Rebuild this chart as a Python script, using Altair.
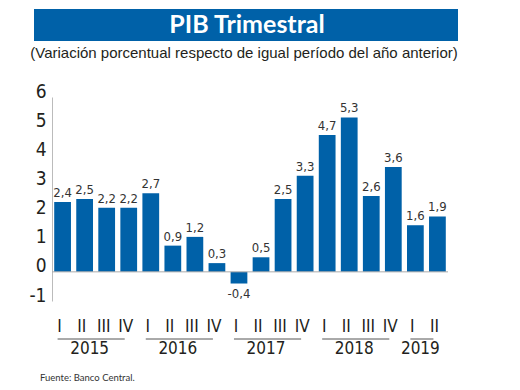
import altair as alt
import pandas as pd

years = ["2015"] * 4 + ["2016"] * 4 + ["2017"] * 4 + ["2018"] * 4 + ["2019"] * 2
quarters = ["I", "II", "III", "IV"] * 4 + ["I", "II"]
values = [2.4, 2.5, 2.2, 2.2, 2.7, 0.9, 1.2, 0.3, -0.4, 0.5, 2.5, 3.3, 4.7, 5.3, 2.6, 3.6, 1.6, 1.9]
y_ticks = [-1, 0, 1, 2, 3, 4, 5, 6]
year_labels = ["2015", "2016", "2017", "2018", "2019"]
year_first = ["2015-I", "2016-I", "2017-I", "2018-I", "2019-I"]
year_last = ["2015-IV", "2016-IV", "2017-IV", "2018-IV", "2019-II"]
year_mid = ["2015-II", "2016-II", "2017-II", "2018-II", "2019-I"]

BLUE = "#0061A8"
TXT = "#231f20"
NARROW = "Liberation Sans Narrow, DejaVu Sans Condensed, Arial, sans-serif"

df = pd.DataFrame({"periodo": [f"{y}-{q}" for y, q in zip(years, quarters)], "valor": values})
order = list(df["periodo"])
ydf = pd.DataFrame({"anio": year_labels, "first": year_first, "last": year_last, "mid": year_mid})

xscale = alt.Scale(domain=order, paddingInner=0.24, paddingOuter=0.1)
yscale = alt.Scale(domain=[-1, 6], nice=False)

x_axis = alt.Axis(labelExpr="split(datum.label,'-')[1]", labelAngle=0, domain=False,
                  ticks=False, labelFontSize=17, labelFont=NARROW, labelColor=TXT,
                  labelPadding=17, labelOverlap=False, labelOffset=-3, title=None)
y_axis = alt.Axis(values=y_ticks, grid=False, ticks=False, domainColor="#bbbbbb",
                  labelFontSize=19, labelFont=NARROW, labelColor=TXT,
                  labelBaseline="alphabetic", labelPadding=6, labelOverlap=False,
                  labelExpr="toString(datum.value)", title=None)

def X(field):
    return alt.X(field, scale=xscale, axis=x_axis, title=None)

def Y(field):
    return alt.Y(field, scale=yscale, axis=y_axis, title=None)

base = alt.Chart(df)
bars = base.mark_bar(color=BLUE).encode(x=X("periodo:N"), y=Y("valor:Q"))

lab = "replace(replace(format(datum.valor,'.1f'),'\u2212','-'),'.',',')"
pos_txt = base.transform_filter("datum.valor >= 0").transform_calculate(lab=lab).mark_text(
    baseline="bottom", dy=-2, fontSize=13, font=NARROW, color="#333333"
).encode(x=X("periodo:N"), y=Y("valor:Q"), text="lab:N")
neg_txt = base.transform_filter("datum.valor < 0").transform_calculate(lab=lab).mark_text(
    baseline="top", dy=4, fontSize=13, font=NARROW, color="#333333"
).encode(x=X("periodo:N"), y=Y("valor:Q"), text="lab:N")

zero = alt.Chart(pd.DataFrame({"z": [0]})).mark_rule(color="#aaaaaa", strokeWidth=1).encode(
    y=Y("z:Q")
)

ybase = alt.Chart(ydf)
underline = ybase.mark_rule(color="#555555", strokeWidth=1, xOffset=-5, x2Offset=-4).encode(
    x=X("first:N"), x2="last:N", y=alt.value(242)
)
year_txt = ybase.mark_text(dx=5, fontSize=17, font=NARROW, color=TXT, baseline="middle").encode(
    x=X("mid:N"), y=alt.value(252), text="anio:N"
)

deco = alt.Chart(pd.DataFrame({"a": [0]}))
banner = deco.mark_rect(color=BLUE).encode(
    x=alt.value(-18), x2=alt.value(406), y=alt.value(-88), y2=alt.value(-56)
)
title = deco.mark_text(text="PIB Trimestral", font="Lato", fontWeight="bold", fontSize=25,
                       color="white", baseline="middle").encode(x=alt.value(195), y=alt.value(-72))
subtitle = deco.mark_text(text="(Variación porcentual respecto de igual período del año anterior)",
                          font="Liberation Sans", fontSize=15, color=TXT,
                          baseline="middle").encode(x=alt.value(192), y=alt.value(-44))
footer = deco.mark_text(text="Fuente: Banco Central.", font="Lato", fontSize=9.5, color="#333333",
                        align="left", baseline="middle").encode(x=alt.value(-12), y=alt.value(281))

chart = alt.layer(
    bars, zero, pos_txt, neg_txt, underline, year_txt, banner, title, subtitle, footer
).properties(
    width=396, height=204,
    padding={"left": 44, "top": 89, "right": 60, "bottom": 82},
    autosize=alt.AutoSizeParams(type="none"),
).configure_view(stroke=None)

chart.save("out.html", embed_options={"renderer": "svg", "actions": False})
